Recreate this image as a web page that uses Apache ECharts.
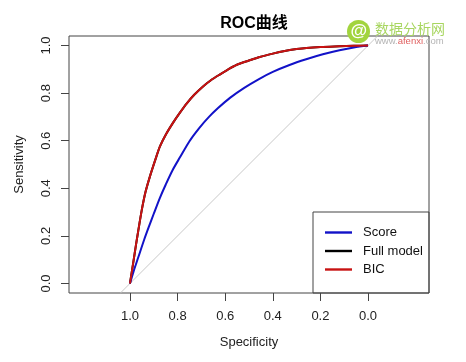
<!DOCTYPE html>
<html>
<head>
<meta charset="utf-8">
<script src="https://cdn.jsdelivr.net/npm/echarts@6/dist/echarts.min.js"></script>
<style>html,body{margin:0;padding:0;background:#fff;}#c{width:466px;height:362px;}</style>
</head>
<body>
<div id="c"></div>
<script>
// ---- data ----
const tickValues = [0, 0.2, 0.4, 0.6, 0.8, 1.0];
const seriesNames = ['Score', 'Full model', 'BIC'];
const scoreSpec = [1, 0.985, 0.965, 0.94, 0.92, 0.90, 0.875, 0.85, 0.82, 0.79, 0.75, 0.71, 0.67, 0.63, 0.58, 0.52, 0.46, 0.40, 0.33, 0.26, 0.19, 0.12, 0.06, 0];
const scoreSens = [0, 0.05, 0.11, 0.185, 0.24, 0.293, 0.358, 0.415, 0.478, 0.53, 0.598, 0.652, 0.698, 0.737, 0.78, 0.822, 0.858, 0.889, 0.918, 0.942, 0.963, 0.98, 0.992, 1];
const fullSpec  = [1, 0.985, 0.975, 0.965, 0.951, 0.935, 0.916, 0.895, 0.874, 0.848, 0.818, 0.79, 0.762, 0.73, 0.693, 0.66, 0.623, 0.59, 0.553, 0.50, 0.455, 0.40, 0.35, 0.30, 0.259, 0.20, 0.12, 0.06, 0];
const fullSens  = [0, 0.095, 0.16, 0.222, 0.305, 0.383, 0.45, 0.515, 0.576, 0.628, 0.677, 0.718, 0.756, 0.793, 0.828, 0.854, 0.878, 0.898, 0.918, 0.937, 0.952, 0.966, 0.977, 0.985, 0.99, 0.994, 0.997, 0.999, 1];
const bicSpec   = [1, 0.985, 0.975, 0.965, 0.951, 0.935, 0.916, 0.895, 0.874, 0.848, 0.818, 0.79, 0.762, 0.73, 0.693, 0.66, 0.623, 0.59, 0.553, 0.50, 0.455, 0.40, 0.35, 0.30, 0.259, 0.20, 0.12, 0.06, 0];
const bicSens   = [0, 0.095, 0.16, 0.222, 0.305, 0.383, 0.45, 0.515, 0.576, 0.628, 0.677, 0.718, 0.756, 0.793, 0.828, 0.854, 0.878, 0.898, 0.918, 0.937, 0.952, 0.966, 0.977, 0.985, 0.99, 0.994, 0.997, 0.999, 1];
const refSpec   = [1.04, -0.04];
const refSens   = [-0.04, 1.04];

const zip = (a, b) => a.map((v, i) => [v, b[i]]);
const FONT = '"Liberation Sans", Arial, "Noto Sans CJK SC", sans-serif';
const AX = '#444';
const LINE_ICON = 'path://M0,0H27V2.4H0Z';

const chart = echarts.init(document.getElementById('c'), null, {renderer: 'canvas'});
chart.setOption({
  animation: false,
  backgroundColor: '#fff',
  textStyle: {fontFamily: FONT},
  title: {
    text: 'ROC曲线', left: 249, top: 11, textAlign: 'center',
    textStyle: {fontFamily: FONT, fontSize: 16, fontWeight: 'bold', color: '#000'}
  },
  grid: {left: 69, top: 36, right: 37, bottom: 69, show: true, borderColor: AX, borderWidth: 1, containLabel: false},
  xAxis: {
    type: 'value', inverse: true, min: -0.256, max: 1.256,
    name: 'Specificity', nameLocation: 'middle', nameGap: 43,
    nameTextStyle: {fontFamily: FONT, fontSize: 13, color: '#222'},
    axisLine: {show: false, onZero: false},
    axisTick: {show: true, inside: false, length: 8, customValues: tickValues, lineStyle: {color: AX}},
    axisLabel: {customValues: tickValues, margin: 17, fontSize: 13, color: '#222', fontFamily: FONT,
      formatter: v => v.toFixed(1)},
    splitLine: {show: false}
  },
  yAxis: {
    type: 'value', min: -0.04, max: 1.04,
    name: 'Sensitivity', nameLocation: 'middle', nameGap: 43, nameRotate: 90,
    nameTextStyle: {fontFamily: FONT, fontSize: 13, color: '#222'},
    axisLine: {show: false, onZero: false},
    axisTick: {show: true, inside: false, length: 8, customValues: tickValues, lineStyle: {color: AX}},
    axisLabel: {customValues: tickValues, margin: 16, rotate: 90, fontSize: 13, color: '#222', fontFamily: FONT,
      formatter: v => v.toFixed(1)},
    splitLine: {show: false}
  },
  legend: {
    orient: 'vertical', left: 313, top: 212,
    padding: [14, 6, 14, 12], itemWidth: 27, itemHeight: 14, itemGap: 5.5,
    icon: LINE_ICON, symbolKeepAspect: true,
    textStyle: {fontFamily: FONT, fontSize: 13, color: '#111', padding: [0, 0, 0, 6]},
    data: seriesNames
  },
  series: [
    {type: 'line', name: 'ref', data: zip(refSpec, refSens), symbol: 'none', silent: true,
      lineStyle: {color: '#c8c8c8', width: 1}, clip: true, z: 1},
    {type: 'line', name: seriesNames[0], data: zip(scoreSpec, scoreSens), symbol: 'none', smooth: 0.3,
      lineStyle: {color: '#1212c8', width: 2}, itemStyle: {color: '#1212c8'}, z: 3},
    {type: 'line', name: seriesNames[1], data: zip(fullSpec, fullSens), symbol: 'none', smooth: 0.3,
      lineStyle: {color: '#000', width: 2}, itemStyle: {color: '#000'}, z: 2},
    {type: 'line', name: seriesNames[2], data: zip(bicSpec, bicSens), symbol: 'none', smooth: 0.3,
      lineStyle: {color: '#c81212', width: 2}, itemStyle: {color: '#c81212'}, z: 4}
  ],
  graphic: [
    {type: 'rect', shape: {x: 313, y: 212, width: 116, height: 81}, style: {fill: 'none', stroke: AX, lineWidth: 1}, z: 10},
    {type: 'circle', shape: {cx: 358.5, cy: 31.5, r: 11.5}, style: {fill: '#a2d43e'}, z: 20},
    {type: 'text', x: 358.5, y: 31, style: {text: '@', fill: '#fff', font: 'italic bold 17px ' + FONT, align: 'center', verticalAlign: 'middle'}, z: 21},
    {type: 'text', x: 375, y: 29, style: {text: '数据分析网', fill: '#a8d660', font: '14px "Noto Sans CJK SC", sans-serif', verticalAlign: 'middle'}, z: 20},
    {type: 'text', x: 375, y: 41, style: {
      text: '{g|www.}{r|afenxi}{g|.com}', verticalAlign: 'middle',
      rich: {g: {fill: '#b4b4b4', fontSize: 9.5, fontFamily: FONT}, r: {fill: '#e06060', fontSize: 9.5, fontFamily: FONT}}
    }, z: 20}
  ]
});
</script>
</body>
</html>
